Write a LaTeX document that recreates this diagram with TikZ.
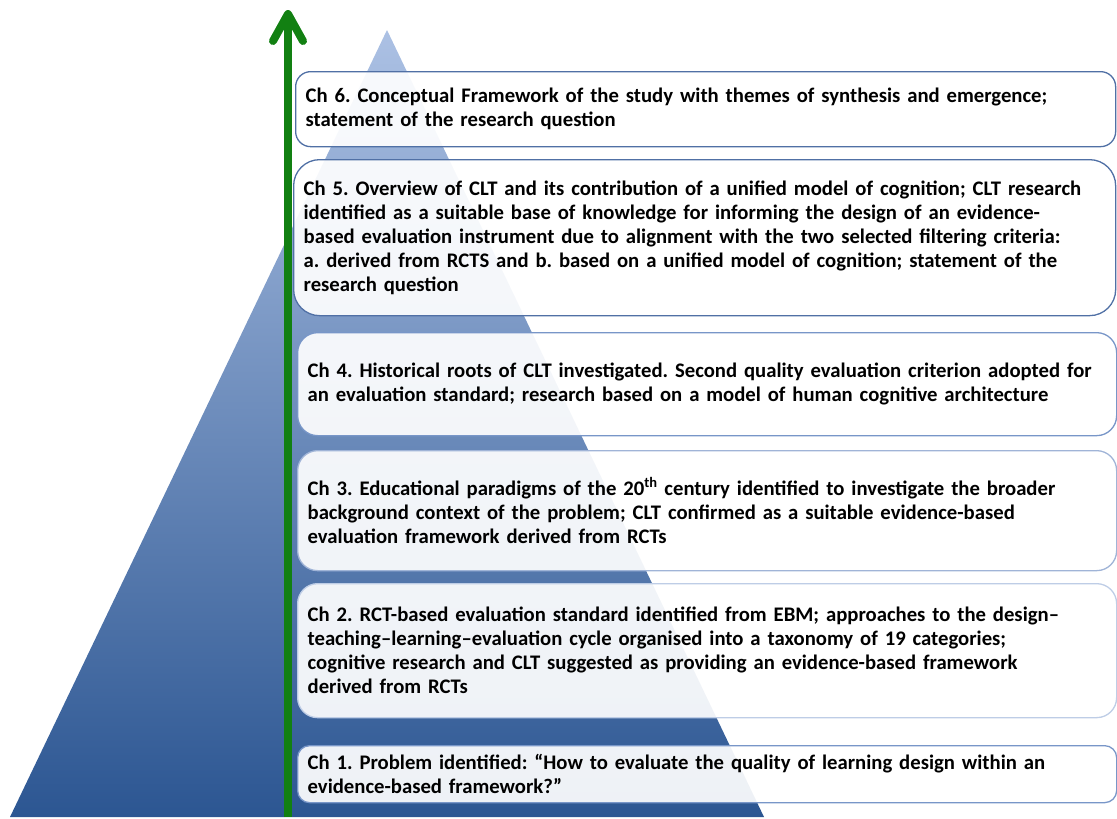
\documentclass[tikz,border=0pt]{standalone}
\usepackage{fontspec}
\setmainfont{Carlito}
\usetikzlibrary{arrows.meta}
\frenchspacing

\definecolor{pyrtop}{RGB}{172,193,228}
\definecolor{pyrbot}{RGB}{44,86,146}
\definecolor{risegreen}{RGB}{18,128,18}
\definecolor{edgedark}{RGB}{80,112,165}
\definecolor{edgemid}{RGB}{120,150,200}
\definecolor{edgelight}{RGB}{160,180,215}
\definecolor{edgepale}{RGB}{190,205,230}

\tikzset{
  chbox/.style={draw, line width=1.3pt, fill=white, fill opacity=0.92, text opacity=1,
    anchor=north west, inner xsep=10pt, inner ysep=0pt, align=left,
    font=\fontsize{20.7}{24}\selectfont\bfseries, text=black},
  risearrow/.style={draw=risegreen, line width=8pt,
    -{Straight Barb[length=27pt, width=30pt, round]}}
}

\begin{document}
\begin{tikzpicture}[x=1pt, y=-1pt]
  \useasboundingbox (0,0) rectangle (1117,819);

  % the pyramid
  \shade[top color=pyrtop, bottom color=pyrbot]
    (387,30) -- (764,817) -- (10,817) -- cycle;

  % upward progression arrow
  \coordinate (arrowfoot) at (288,817);
  \coordinate (arrowtip)  at (288,10);
  \draw[risearrow] (arrowfoot) -- (arrowtip);

  % chapter boxes, top to bottom
  \node[chbox, draw=edgedark, rounded corners=15pt,
        minimum width=820pt, minimum height=75pt, text width=800pt]
    (ch6) at (295,71)
    {Ch 6. Conceptual Framework of the study with themes of synthesis and emergence;\\
     statement of the research question};

  \node[chbox, draw=edgedark, rounded corners=26pt,
        minimum width=822pt, minimum height=156pt, text width=802pt]
    (ch5) at (293,159)
    {Ch 5. Overview of CLT and its contribution of a unified model of cognition; CLT research\\
     identified as a suitable base of knowledge for informing the design of an evidence-\\
     based evaluation instrument due to alignment with the two selected filtering criteria:\\
     a. derived from RCTS and b. based on a unified model of cognition; statement of the\\
     research question};

  \node[chbox, draw=edgemid, rounded corners=20pt,
        minimum width=819pt, minimum height=103pt, text width=799pt]
    (ch4) at (297,332)
    {Ch 4. Historical roots of CLT investigated. Second quality evaluation criterion adopted for\\
     an evaluation standard; research based on a model of human cognitive architecture};

  \node[chbox, draw=edgelight, rounded corners=20pt,
        minimum width=819pt, minimum height=120pt, text width=799pt]
    (ch3) at (297,450)
    {Ch 3. Educational paradigms of the 20\textsuperscript{th} century identified to investigate the broader\\
     background context of the problem; CLT confirmed as a suitable evidence-based\\
     evaluation framework derived from RCTs};

  \node[chbox, draw=edgepale, rounded corners=20pt,
        minimum width=819pt, minimum height=134pt, text width=799pt]
    (ch2) at (297,583)
    {Ch 2. RCT-based evaluation standard identified from EBM; approaches to the design–\\
     teaching–learning–evaluation cycle organised into a taxonomy of 19 categories;\\
     cognitive research and CLT suggested as providing an evidence-based framework\\
     derived from RCTs};

  \node[chbox, draw=edgemid, rounded corners=12pt,
        minimum width=819pt, minimum height=57pt, text width=799pt]
    (ch1) at (297,745)
    {Ch 1. Problem identified: “How to evaluate the quality of learning design within an\\
     evidence-based framework?”};
\end{tikzpicture}
\end{document}
